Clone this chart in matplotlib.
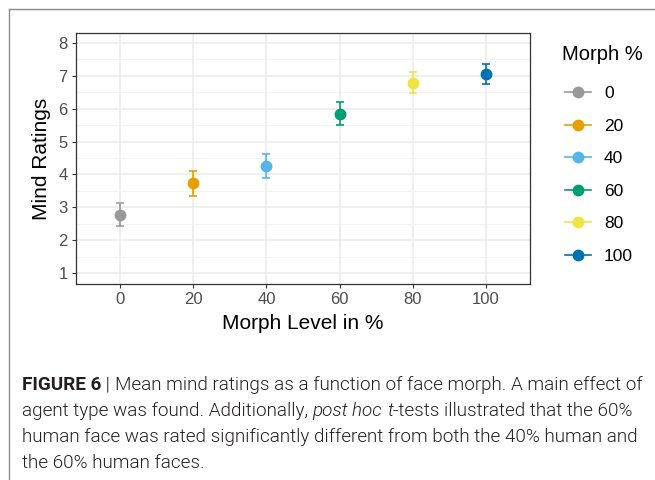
import matplotlib
matplotlib.use("Agg")
import matplotlib.pyplot as plt
from matplotlib.lines import Line2D
from matplotlib.ticker import MultipleLocator

# data
morph = [0, 20, 40, 60, 80, 100]
means = [2.77, 3.73, 4.25, 5.85, 6.78, 7.05]
lower = [2.43, 3.36, 3.88, 5.50, 6.47, 6.75]
upper = [3.12, 4.09, 4.62, 6.20, 7.10, 7.37]
labels = ["0", "20", "40", "60", "80", "100"]
colors = ["#999999", "#E69F00", "#56B4E9", "#009E73", "#F0E442", "#0072B2"]

plt.rcParams['font.family'] = ['Liberation Sans', 'DejaVu Sans']

W, H = 655, 480
fig = plt.figure(figsize=(W / 100, H / 100), dpi=100)

# outer frame (top and left only visible)
fig.add_artist(Line2D([9 / W, 1], [1 - 9 / H, 1 - 9 / H], color="#8a8a8a", lw=1.0))
fig.add_artist(Line2D([9 / W, 9 / W], [0, 1 - 9 / H], color="#8a8a8a", lw=1.0))

ax = fig.add_axes([76 / W, (H - 284) / H, (530 - 76) / W, (284 - 33) / H])
ax.set_xlim(-12, 112)
ax.set_ylim(0.67, 8.30)

for x, m, lo, hi, c in zip(morph, means, lower, upper, colors):
    ax.errorbar(x, m, yerr=[[m - lo], [hi - m]], fmt="o", color=c, ms=7.5,
                elinewidth=1.2, capsize=3, capthick=1.2, zorder=3)

ax.set_xticks(morph)
ax.set_xticklabels(labels)
ax.yaxis.set_major_locator(MultipleLocator(1))
ax.yaxis.set_minor_locator(MultipleLocator(0.5))
ax.set_yticks(range(1, 9))
ax.grid(which="major", color="#EBEBEB", lw=1.1)
ax.grid(which="minor", axis="y", color="#F2F2F2", lw=0.6)
ax.set_axisbelow(True)
ax.tick_params(axis="both", which="major", colors="#333333", labelcolor="#4D4D4D",
               labelsize=12, length=3, width=0.8, pad=3)
ax.tick_params(axis="y", which="minor", length=0)
for s in ax.spines.values():
    s.set_color("#333333")
    s.set_linewidth(0.9)

ax.set_xlabel("Morph Level in %", fontsize=15, labelpad=5)
ax.set_ylabel("Mind Ratings", fontsize=15, labelpad=5)

# legend: title as separate text so the gap to the keys matches
fig.text(562 / W, 1 - 55 / H, "Morph %", fontsize=14.5, ha="left", va="center")
handles = [Line2D([0], [0], color=c, marker="o", ms=7.5, lw=1.2) for c in colors]
leg = fig.legend(handles, labels, loc="upper left",
                 bbox_to_anchor=(565 / W, 1 - 86 / H), frameon=False,
                 borderpad=0, borderaxespad=0,
                 fontsize=12.5, labelspacing=1.0,
                 handlelength=1.5, handletextpad=0.75)

# caption
cap_size = 13.6
cap_fam = ['Roboto', 'Liberation Sans', 'DejaVu Sans']
cap_w = 300
cax = fig.add_axes([0, 0, 1, 1])
cax.set_axis_off()
cax.set_xlim(0, W)
cax.set_ylim(H, 0)


def chain(prev, text, **kw):
    kw.setdefault("weight", cap_w)
    return cax.annotate(text, xy=(1, 0), xycoords=prev, va="bottom", ha="left",
                        fontsize=cap_size, family=cap_fam, color="#231F20", **kw)


x0 = 22
t = cax.text(x0, 394, "FIGURE 6", fontsize=cap_size, family=cap_fam,
             weight="bold", color="#231F20", va="bottom")
t = chain(t, " | ")
chain(t, "Mean mind ratings as a function of face morph. A main effect of")

t = cax.text(x0, 420, "agent type was found. Additionally, ", fontsize=cap_size,
             family=cap_fam, weight=cap_w, color="#231F20", va="bottom")
t = chain(t, "post hoc ", style="italic")
t = chain(t, "t", style="italic")
chain(t, "-tests illustrated that the 60%")

cax.text(x0, 446, "human face was rated significantly different from both the 40% human and",
         fontsize=cap_size, family=cap_fam, weight=cap_w, color="#231F20", va="bottom")
cax.text(x0, 472, "the 60% human faces.", fontsize=cap_size, family=cap_fam,
         weight=cap_w, color="#231F20", va="bottom")

fig.savefig("out.png", dpi=100)
